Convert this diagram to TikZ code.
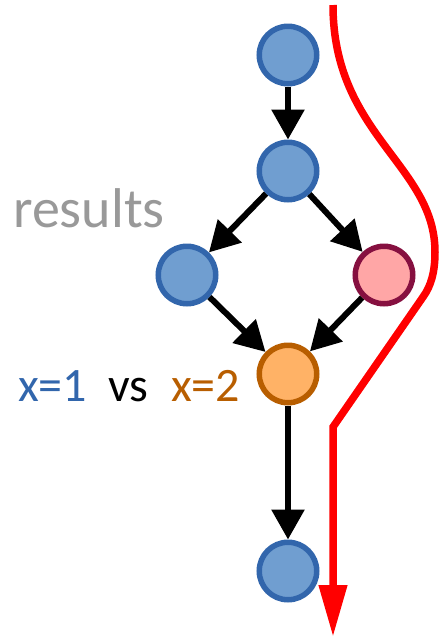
\documentclass[tikz,border=0pt]{standalone}
\usepackage{fontspec}
\setmainfont{Carlito}
\usetikzlibrary{arrows.meta}

\definecolor{blueFill}{RGB}{112,158,208}
\definecolor{blueLine}{RGB}{50,102,172}
\definecolor{pinkFill}{RGB}{255,166,166}
\definecolor{pinkLine}{RGB}{134,16,64}
\definecolor{orangeFill}{RGB}{255,178,102}
\definecolor{orangeLine}{RGB}{184,94,0}
\definecolor{labelGray}{RGB}{153,153,153}
\definecolor{pathRed}{RGB}{255,0,0}

\tikzset{
  vertex/.style={circle, minimum size=57.5pt, inner sep=0pt, line width=5.5pt},
  bluev/.style={vertex, draw=blueLine, fill=blueFill},
  pinkv/.style={vertex, draw=pinkLine, fill=pinkFill},
  orangev/.style={vertex, draw=orangeLine, fill=orangeFill},
  edge/.style={line width=6pt, -{Triangle[width=32pt,length=30pt]}},
  lbl/.style={inner sep=0pt, anchor=base west},
}

\begin{document}
\begin{tikzpicture}[x=1pt,y=-1pt]
  \useasboundingbox (0,0) rectangle (439,638);

  % graph vertices
  \node[bluev]   (top)    at (288,55)  {};
  \node[bluev]   (split)  at (288,171) {};
  \node[bluev]   (left)   at (187,275) {};
  \node[pinkv]   (right)  at (384,275) {};
  \node[orangev] (merge)  at (288,374) {};
  \node[bluev]   (bottom) at (288,571) {};

  % edges
  \draw[edge] (top) -- (split);
  \draw[edge] (split) -- (left);
  \draw[edge] (split) -- (right);
  \draw[edge] (left) -- (merge);
  \draw[edge] (right) -- (merge);
  \draw[edge] (merge) -- (bottom);

  % labels
  \node[lbl, text=labelGray, font=\fontsize{56}{60}\selectfont] (res) at (13,227) {results};
  \node[lbl, text=blueLine, font=\fontsize{48}{52}\selectfont] (xone) at (18,401) {x=1};
  \node[lbl, text=black, font=\fontsize{48}{52}\selectfont] (vs) at (108,401) {vs};
  \node[lbl, text=orangeLine, font=\fontsize{48}{52}\selectfont] (xtwo) at (171,401) {x=2};

  % red trace
  \coordinate (rs) at (333,5);
  \coordinate (rb) at (435,252);
  \coordinate (rd) at (423,297);
  \coordinate (rc) at (333,427);
  \coordinate (re) at (333,637);
  \draw[pathRed, line width=7.5pt, -{Triangle[width=27pt,length=52pt]}]
    (rs) .. controls (333,135) and (435,165) .. (rb)
         .. controls (435,272) and (431,286) .. (rd)
         -- (rc) -- (re);
\end{tikzpicture}
\end{document}
